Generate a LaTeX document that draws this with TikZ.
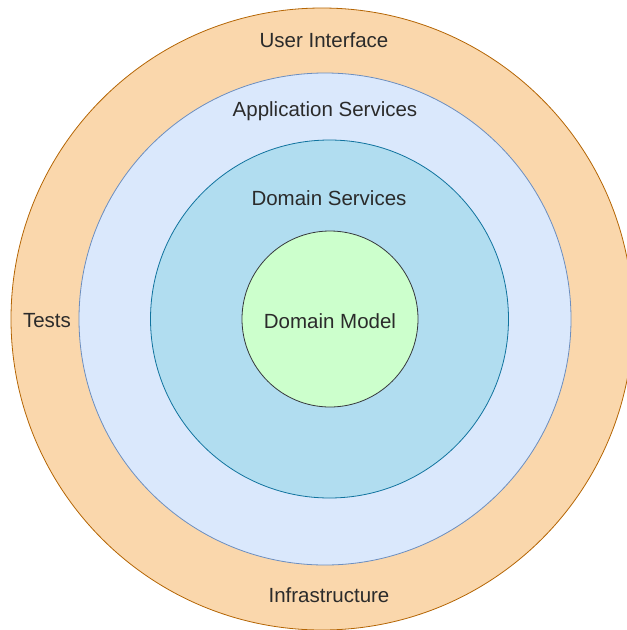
\documentclass[tikz,border=0pt]{standalone}
\usepackage{fontspec}
\setmainfont{Liberation Sans}
\definecolor{uiFill}{HTML}{FAD7AC}
\definecolor{uiLine}{HTML}{B46504}
\definecolor{asFill}{HTML}{DAE8FC}
\definecolor{asLine}{HTML}{6C8EBF}
\definecolor{dsFill}{HTML}{B1DDF0}
\definecolor{dsLine}{HTML}{10739E}
\definecolor{dmFill}{HTML}{CCFFCC}
\definecolor{dmLine}{HTML}{36393D}
\definecolor{txt}{HTML}{2B2B2B}
\begin{document}
\begin{tikzpicture}[x=1pt,y=-1pt,
  ring/.style={circle,inner sep=0pt,line width=0.8pt},
  lbl/.style={text=txt,font=\fontsize{20.5}{24}\selectfont,inner sep=0pt}]
\useasboundingbox (0,0) rectangle (627,630);
\clip (0,0) rectangle (627,630);
\node[ring,draw=uiLine,fill=uiFill,minimum size=622pt] (ui) at (322,319) {};
\node[ring,draw=asLine,fill=asFill,minimum size=492pt] (as) at (325,319) {};
\node[ring,draw=dsLine,fill=dsFill,minimum size=358pt] (ds) at (329.5,319) {};
\node[ring,draw=dmLine,fill=dmFill,minimum size=176pt] (dm) at (330,319) {};
\node[lbl] (tui) at (324,40) {User Interface};
\node[lbl] (tas) at (325,111) {Application Services};
\node[lbl] (tds) at (329,198) {Domain Services};
\node[lbl] (tdm) at (330,321) {Domain Model};
\node[lbl] (tts) at (47,321) {Tests};
\node[lbl] (tin) at (329,595) {Infrastructure};
\end{tikzpicture}
\end{document}
